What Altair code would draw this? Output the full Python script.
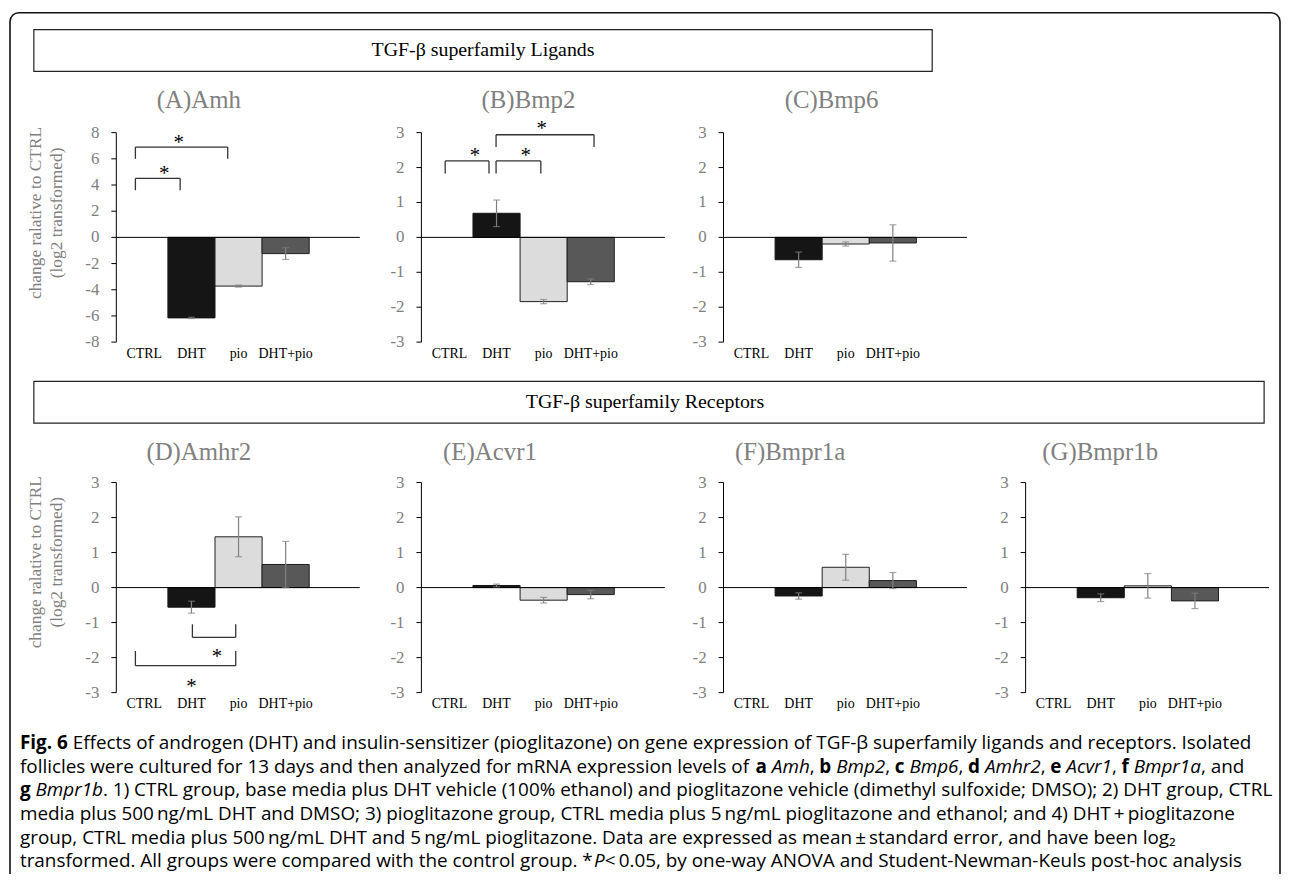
import glob
import os
import struct

import altair as alt
import pandas as pd

# ---------------- data ----------------
GROUPS = ["CTRL", "DHT", "pio", "DHT+pio"]

AMH_MEAN = [0.0, -6.15, -3.72, -1.24]
AMH_SE = [0.0, 0.05, 0.08, 0.45]
BMP2_MEAN = [0.0, 0.69, -1.84, -1.27]
BMP2_SE = [0.0, 0.38, 0.06, 0.08]
BMP6_MEAN = [0.0, -0.64, -0.19, -0.16]
BMP6_SE = [0.0, 0.22, 0.06, 0.52]
AMHR2_MEAN = [0.0, -0.56, 1.45, 0.66]
AMHR2_SE = [0.0, 0.17, 0.57, 0.66]
ACVR1_MEAN = [0.0, 0.06, -0.36, -0.20]
ACVR1_SE = [0.0, 0.04, 0.08, 0.12]
BMPR1A_MEAN = [0.0, -0.24, 0.58, 0.20]
BMPR1A_SE = [0.0, 0.09, 0.37, 0.23]
BMPR1B_MEAN = [0.0, -0.29, 0.05, -0.38]
BMPR1B_SE = [0.0, 0.11, 0.35, 0.22]

PANEL_TITLES = ["(A)Amh", "(B)Bmp2", "(C)Bmp6", "(D)Amhr2", "(E)Acvr1", "(F)Bmpr1a", "(G)Bmpr1b"]
Y_TITLE = ["change ralative to CTRL", "(log2 transformed)"]
HEADERS = ["TGF-\u03b2 superfamily Ligands", "TGF-\u03b2 superfamily Receptors"]
AMH_TICKS = [-8, -6, -4, -2, 0, 2, 4, 6, 8]
AMH_TICK_LABELS = ["-8", "-6", "-4", "-2", "0", "2", "4", "6", "8"]
SMALL_TICKS = [-3, -2, -1, 0, 1, 2, 3]
SMALL_TICK_LABELS = ["-3", "-2", "-1", "0", "1", "2", "3"]

# significance brackets (x in bar units: CTRL bar spans 0-1, DHT 1-2, ...)
AMH_BR_X1 = [0.31, 0.31]
AMH_BR_X2 = [2.27, 1.26]
AMH_BR_Y = [6.9, 4.5]
AMH_BR_END = [6.0, 3.6]
AMH_STAR_X = [1.23, 0.92]
AMH_STAR_Y = [7.5, 5.14]

BMP2_BR_X1 = [0.41, 1.49, 1.49]
BMP2_BR_X2 = [1.34, 2.44, 3.57]
BMP2_BR_Y = [2.19, 2.19, 2.94]
BMP2_BR_END = [1.83, 1.83, 2.59]
BMP2_STAR_X = [1.04, 2.12, 2.46]
BMP2_STAR_Y = [2.43, 2.43, 3.23]

AMHR2_BR_X1 = [1.52, 0.31]
AMHR2_BR_X2 = [2.44, 2.44]
AMHR2_BR_Y = [-1.42, -2.23]
AMHR2_BR_END = [-1.05, -1.81]
AMHR2_STAR_X = [2.04, 1.50]
AMHR2_STAR_Y = [-1.87, -2.73]

# caption: per line, segments of (style, text); r = regular, b = bold, i = italic
TS = "\u2009"
CAPTION = [
    [("b", "Fig. 6"), ("r", " Effects of androgen (DHT) and insulin-sensitizer (pioglitazone) on gene expression of TGF-\u03b2 superfamily ligands and receptors. Isolated")],
    [("r", "follicles were cultured for 13 days and then analyzed for mRNA expression levels of "),
     ("b", "a"), ("r", " "), ("i", "Amh"), ("r", ", "), ("b", "b"), ("r", " "), ("i", "Bmp2"), ("r", ", "),
     ("b", "c"), ("r", " "), ("i", "Bmp6"), ("r", ", "), ("b", "d"), ("r", " "), ("i", "Amhr2"), ("r", ", "),
     ("b", "e"), ("r", " "), ("i", "Acvr1"), ("r", ", "), ("b", "f"), ("r", " "), ("i", "Bmpr1a"), ("r", ", and")],
    [("b", "g"), ("r", " "), ("i", "Bmpr1b"),
     ("r", ". 1) CTRL group, base media plus DHT vehicle (100% ethanol) and pioglitazone vehicle (dimethyl sulfoxide; DMSO); 2) DHT group, CTRL")],
    [("r", "media plus 500" + TS + "ng/mL DHT and DMSO; 3) pioglitazone group, CTRL media plus 5" + TS + "ng/mL pioglitazone and ethanol; and 4) DHT" + TS + "+" + TS + "pioglitazone")],
    [("r", "group, CTRL media plus 500" + TS + "ng/mL DHT and 5" + TS + "ng/mL pioglitazone. Data are expressed as mean" + TS + "\u00b1" + TS + "standard error, and have been log\u2082")],
    [("r", "transformed. All groups were compared with the control group. *"), ("i", "P"),
     ("r", TS + "<" + TS + "0.05, by one-way ANOVA and Student-Newman-Keuls post-hoc analysis")],
]

# ---------------- layout / style ----------------
W, H = 1282, 866
OFF = 8
BAND = 47.4
INSET = 4.5
PLOT_W = 245
TICK_LEN = 5
ROW1 = dict(top=130.7, bottom=341.5)
ROW2 = dict(top=482.8, bottom=694.2)
GRAY = "#808080"
SERIF = "Liberation Serif"
SANS = "Open Sans"
FILLS = ["#ffffff", "#151515", "#dcdcdc", "#585858"]
STROKES = ["#ffffff", "#151515", "#1e1e1e", "#1e1e1e"]
CAP_X = 20
CAP_RIGHT = 1262
CAP_Y0 = 751
CAP_DY = 23.8


def cx(px):
    return px - OFF


def cy(py):
    return py - OFF


# ---------- text metrics from the installed font files (for caption layout) ----------
def _find_font(names):
    roots = ["/usr/share/fonts", "/usr/local/share/fonts",
             os.path.expanduser("~/.fonts"), os.path.expanduser("~/.local/share/fonts")]
    for n in names:
        for r in roots:
            hits = glob.glob(os.path.join(r, "**", n), recursive=True)
            if hits:
                return hits[0]
    return None


def _load_metrics(path):
    data = open(path, "rb").read()
    base = struct.unpack(">I", data[12:16])[0] if data[:4] == b"ttcf" else 0
    ntab = struct.unpack(">H", data[base + 4:base + 6])[0]
    tables = {}
    for i in range(ntab):
        rec = base + 12 + 16 * i
        tag = data[rec:rec + 4].decode("latin1")
        toff, tlen = struct.unpack(">II", data[rec + 8:rec + 16])
        tables[tag] = toff
    upem = struct.unpack(">H", data[tables["head"] + 18:tables["head"] + 20])[0]
    nhm = struct.unpack(">H", data[tables["hhea"] + 34:tables["hhea"] + 36])[0]
    hm = tables["hmtx"]
    adv = [struct.unpack(">H", data[hm + 4 * i:hm + 4 * i + 2])[0] for i in range(nhm)]
    co = tables["cmap"]
    nsub = struct.unpack(">H", data[co + 2:co + 4])[0]
    sub = None
    for i in range(nsub):
        pid, eid, soff = struct.unpack(">HHI", data[co + 4 + 8 * i:co + 12 + 8 * i])
        fmt = struct.unpack(">H", data[co + soff:co + soff + 2])[0]
        if fmt == 12:
            sub = (12, co + soff)
            break
        if fmt == 4 and sub is None:
            sub = (4, co + soff)
    cmap = {}
    fmt, so = sub
    if fmt == 4:
        segx2 = struct.unpack(">H", data[so + 6:so + 8])[0]
        seg = segx2 // 2
        ends = struct.unpack(">%dH" % seg, data[so + 14:so + 14 + segx2])
        starts = struct.unpack(">%dH" % seg, data[so + 16 + segx2:so + 16 + 2 * segx2])
        deltas = struct.unpack(">%dh" % seg, data[so + 16 + 2 * segx2:so + 16 + 3 * segx2])
        rpos = so + 16 + 3 * segx2
        ros = struct.unpack(">%dH" % seg, data[rpos:rpos + segx2])
        for i in range(seg):
            for c in range(starts[i], ends[i] + 1):
                if c == 0xFFFF:
                    continue
                if ros[i] == 0:
                    g = (c + deltas[i]) & 0xFFFF
                else:
                    addr = rpos + 2 * i + ros[i] + 2 * (c - starts[i])
                    g = struct.unpack(">H", data[addr:addr + 2])[0]
                    if g:
                        g = (g + deltas[i]) & 0xFFFF
                cmap[c] = g
    else:
        ng = struct.unpack(">I", data[so + 12:so + 16])[0]
        for i in range(ng):
            s, e, g0 = struct.unpack(">III", data[so + 16 + 12 * i:so + 28 + 12 * i])
            for c in range(s, min(e, 0x2FFFF) + 1):
                cmap[c] = g0 + (c - s)

    def width(text):
        tot = 0
        for ch in text:
            g = cmap.get(ord(ch), 0)
            tot += adv[g] if g < nhm else adv[-1]
        return tot / upem

    return width


def _metrics():
    try:
        reg = _find_font(["OpenSans-Regular.ttf"])
        if reg is None:
            return None
        w_r = _load_metrics(reg)
        b = _find_font(["OpenSans-Bold.ttf"])
        it = _find_font(["OpenSans-Italic.ttf"])
        w_b = _load_metrics(b) if b else (lambda t: w_r(t) * 1.06)
        w_i = _load_metrics(it) if it else (lambda t: w_r(t) * 0.95)
        return {"r": w_r, "b": w_b, "i": w_i}
    except Exception:
        return None


METRICS = _metrics()


def caption_rows():
    rows = []
    if METRICS is not None:
        w1 = sum(METRICS[s](t) for s, t in CAPTION[0])
        size = max(17.5, min(20.0, (CAP_RIGHT - CAP_X) / w1))
        for k, line in enumerate(CAPTION):
            x = CAP_X
            for style, text in line:
                lead = len(text) - len(text.lstrip(" "))
                body = text.strip(" ")
                if body:
                    rows.append(dict(t=body, s=style, px=cx(x + METRICS[style](" " * lead) * size),
                                     py=cy(CAP_Y0 + k * CAP_DY)))
                x += METRICS[style](text) * size
    else:
        size = 19.0
        for k, line in enumerate(CAPTION):
            txt = "".join(t for _, t in line)
            if k == 0:
                rows.append(dict(t=line[0][1], s="b", px=cx(CAP_X), py=cy(CAP_Y0)))
                rows.append(dict(t=txt[len(line[0][1]):].strip(), s="r", px=cx(74), py=cy(CAP_Y0)))
            else:
                rows.append(dict(t=txt, s="r", px=cx(CAP_X), py=cy(CAP_Y0 + k * CAP_DY)))
    return pd.DataFrame(rows), size


def panel(title, means, ses, axis_px, row, ymin, ymax, ticks, tick_labels, title_px,
          ytitle=None, ytitle_py=None, br=None, stars=None):
    x0 = cx(axis_px + INSET)
    xscale = alt.Scale(domain=[0, 4], range=[x0, x0 + 4 * BAND], nice=False, zero=False)
    yscale = alt.Scale(domain=[ymin, ymax], range=[cy(row["bottom"]), cy(row["top"])], nice=False, zero=False)

    df = pd.DataFrame({"group": GROUPS, "mean": means, "se": ses})
    df["i"] = range(4)
    df["i2"] = df["i"] + 1
    df["xc"] = df["i"] + 0.5
    df["lo"] = df["mean"] - df["se"]
    df["hi"] = df["mean"] + df["se"]
    df["zero"] = 0.0
    df["yb"] = float(ymin)

    xa = -INSET / BAND
    xt = -(INSET + TICK_LEN) / BAND

    base = alt.Chart(df)
    bars = base.transform_filter("datum.mean != 0").mark_bar(strokeWidth=1).encode(
        x=alt.X("i:Q", scale=xscale, axis=None),
        x2="i2:Q",
        y=alt.Y("mean:Q", scale=yscale, axis=None),
        y2="zero:Q",
        fill=alt.Fill("group:N", scale=alt.Scale(domain=GROUPS, range=FILLS), legend=None),
        stroke=alt.Stroke("group:N", scale=alt.Scale(domain=GROUPS, range=STROKES), legend=None),
    )
    ddf = pd.DataFrame({"xa": [xa], "y0": [float(ymin)], "y1": [float(ymax)],
                        "xr": [(PLOT_W - INSET) / BAND], "z": [0.0]})
    dom = alt.Chart(ddf).mark_rule(color="black", strokeWidth=1).encode(
        x=alt.X("xa:Q", axis=None), y=alt.Y("y0:Q", axis=None), y2="y1:Q"
    )
    zero = alt.Chart(ddf).mark_rule(color="black", strokeWidth=1).encode(
        x=alt.X("xa:Q", axis=None), x2="xr:Q", y=alt.Y("z:Q", axis=None)
    )
    tdf = pd.DataFrame({"v": ticks, "lab": tick_labels})
    tdf["xa"] = xa
    tdf["xt"] = xt
    tks = alt.Chart(tdf).mark_rule(color="black", strokeWidth=1).encode(
        x=alt.X("xt:Q", axis=None), x2="xa:Q", y=alt.Y("v:Q", axis=None)
    )
    tlabs = alt.Chart(tdf).mark_text(font=SERIF, fontSize=17, color=GRAY, align="right",
                                     baseline="middle", dx=-12).encode(
        x=alt.X("xt:Q", axis=None), y=alt.Y("v:Q", axis=None), text="lab:N"
    )
    clabs = base.mark_text(font=SERIF, fontSize=14, color="black", align="center",
                           baseline="middle", dy=11.5).encode(
        x=alt.X("xc:Q", axis=None), y=alt.Y("yb:Q", axis=None), text="group:N"
    )

    eb = base.transform_filter("datum.se > 0")
    err = eb.mark_rule(color=GRAY, strokeWidth=1.2).encode(
        x=alt.X("xc:Q", axis=None), y=alt.Y("lo:Q", axis=None), y2="hi:Q"
    )
    cap_lo = eb.mark_tick(orient="horizontal", size=7, thickness=1.2, color=GRAY).encode(
        x=alt.X("xc:Q", axis=None), y=alt.Y("lo:Q", axis=None)
    )
    cap_hi = eb.mark_tick(orient="horizontal", size=7, thickness=1.2, color=GRAY).encode(
        x=alt.X("xc:Q", axis=None), y=alt.Y("hi:Q", axis=None)
    )

    tx = (title_px[0] - (axis_px + INSET)) / BAND
    ty = ymin + (row["bottom"] - title_px[1]) / (row["bottom"] - row["top"]) * (ymax - ymin)
    ttdf = pd.DataFrame({"t": [title], "tx": [tx], "ty": [ty]})
    ttl = alt.Chart(ttdf).mark_text(font=SERIF, fontSize=25, color=GRAY, align="center", baseline="middle").encode(
        x=alt.X("tx:Q", axis=None), y=alt.Y("ty:Q", axis=None), text="t:N"
    )

    layers = [bars, zero, dom, tks, tlabs, clabs, err, cap_lo, cap_hi, ttl]
    if br is not None:
        bdf = pd.DataFrame({"x1": br[0], "x2": br[1], "y": br[2], "yend": br[3]})
        bb = alt.Chart(bdf)
        kw = dict(color="#333333", strokeWidth=1.3)
        layers += [
            bb.mark_rule(**kw).encode(x=alt.X("x1:Q", axis=None), x2="x2:Q", y=alt.Y("y:Q", axis=None)),
            bb.mark_rule(**kw).encode(x=alt.X("x1:Q", axis=None), y=alt.Y("y:Q", axis=None), y2="yend:Q"),
            bb.mark_rule(**kw).encode(x=alt.X("x2:Q", axis=None), y=alt.Y("y:Q", axis=None), y2="yend:Q"),
        ]
    if stars is not None:
        sdf = pd.DataFrame({"sx": stars[0], "sy": stars[1], "s": ["*"] * len(stars[0])})
        layers.append(
            alt.Chart(sdf).mark_text(font=SERIF, fontSize=21, color="black", align="center",
                                     baseline="alphabetic", dy=10).encode(
                x=alt.X("sx:Q", axis=None), y=alt.Y("sy:Q", axis=None), text="s:N"
            )
        )
    if ytitle is not None:
        for k, line in enumerate(ytitle):
            layers.append(
                alt.Chart(pd.DataFrame({"t": [line]})).mark_text(
                    font=SERIF, fontSize=17.5, color=GRAY, angle=270, align="center",
                    baseline="alphabetic").encode(
                    x=alt.value(cx(41 + 21 * k)), y=alt.value(cy(ytitle_py)), text="t:N")
            )
    return alt.layer(*layers)


one = pd.DataFrame({"k": [0]})

frame = alt.Chart(one).mark_rect(fill="transparent", stroke="#111111", strokeWidth=1.6, cornerRadius=9).encode(
    x=alt.value(cx(10)), x2=alt.value(cx(1288)), y=alt.value(cy(10)), y2=alt.value(H + 30)
)
hbox1 = alt.Chart(one).mark_rect(fill="transparent", stroke="#222222", strokeWidth=1.2).encode(
    x=alt.value(cx(34)), x2=alt.value(cx(938)), y=alt.value(cy(27)), y2=alt.value(cy(69))
)
hbox2 = alt.Chart(one).mark_rect(fill="transparent", stroke="#222222", strokeWidth=1.2).encode(
    x=alt.value(cx(34)), x2=alt.value(cx(1272)), y=alt.value(cy(381)), y2=alt.value(cy(423))
)
htxt1 = alt.Chart(pd.DataFrame({"t": [HEADERS[0]]})).mark_text(
    font=SERIF, fontSize=20, color="black", align="center", baseline="middle").encode(
    x=alt.value(cx(486)), y=alt.value(cy(48)), text="t:N")
htxt2 = alt.Chart(pd.DataFrame({"t": [HEADERS[1]]})).mark_text(
    font=SERIF, fontSize=20, color="black", align="center", baseline="middle").encode(
    x=alt.value(cx(649)), y=alt.value(cy(402)), text="t:N")

cap_df, cap_size = caption_rows()
cap_layers = []
for style, kw in [("r", {}), ("b", {"fontWeight": "bold"}), ("i", {"fontStyle": "italic"})]:
    sub = cap_df[cap_df["s"] == style]
    if len(sub):
        cap_layers.append(
            alt.Chart(sub).mark_text(font=SANS, fontSize=cap_size, color="black", align="left",
                                     baseline="alphabetic", **kw).encode(
                x=alt.X("px:Q", scale=None, axis=None), y=alt.Y("py:Q", scale=None, axis=None), text="t:N")
        )

pA = panel(PANEL_TITLES[0], AMH_MEAN, AMH_SE, 117, ROW1, -8, 8, AMH_TICKS, AMH_TICK_LABELS, (200, 98),
           ytitle=Y_TITLE, ytitle_py=211.5,
           br=(AMH_BR_X1, AMH_BR_X2, AMH_BR_Y, AMH_BR_END), stars=(AMH_STAR_X, AMH_STAR_Y))
pB = panel(PANEL_TITLES[1], BMP2_MEAN, BMP2_SE, 424, ROW1, -3, 3, SMALL_TICKS, SMALL_TICK_LABELS, (531.7, 98),
           br=(BMP2_BR_X1, BMP2_BR_X2, BMP2_BR_Y, BMP2_BR_END), stars=(BMP2_STAR_X, BMP2_STAR_Y))
pC = panel(PANEL_TITLES[2], BMP6_MEAN, BMP6_SE, 728, ROW1, -3, 3, SMALL_TICKS, SMALL_TICK_LABELS, (836.7, 98))
pD = panel(PANEL_TITLES[3], AMHR2_MEAN, AMHR2_SE, 117, ROW2, -3, 3, SMALL_TICKS, SMALL_TICK_LABELS, (200, 451.7),
           ytitle=Y_TITLE, ytitle_py=563,
           br=(AMHR2_BR_X1, AMHR2_BR_X2, AMHR2_BR_Y, AMHR2_BR_END), stars=(AMHR2_STAR_X, AMHR2_STAR_Y))
pE = panel(PANEL_TITLES[4], ACVR1_MEAN, ACVR1_SE, 424, ROW2, -3, 3, SMALL_TICKS, SMALL_TICK_LABELS, (493, 451.7))
pF = panel(PANEL_TITLES[5], BMPR1A_MEAN, BMPR1A_SE, 728, ROW2, -3, 3, SMALL_TICKS, SMALL_TICK_LABELS, (795, 451.7))
pG = panel(PANEL_TITLES[6], BMPR1B_MEAN, BMPR1B_SE, 1032, ROW2, -3, 3, SMALL_TICKS, SMALL_TICK_LABELS, (1107, 451.7))

chart = alt.layer(
    frame, hbox1, hbox2, htxt1, htxt2, *cap_layers, pA, pB, pC, pD, pE, pF, pG
).resolve_scale(x="independent", y="independent").properties(
    width=W, height=H, padding=0, autosize=alt.AutoSizeParams(type="none")
).configure_view(stroke=None)

chart.save("out.html", embed_options={"renderer": "svg", "actions": False})
